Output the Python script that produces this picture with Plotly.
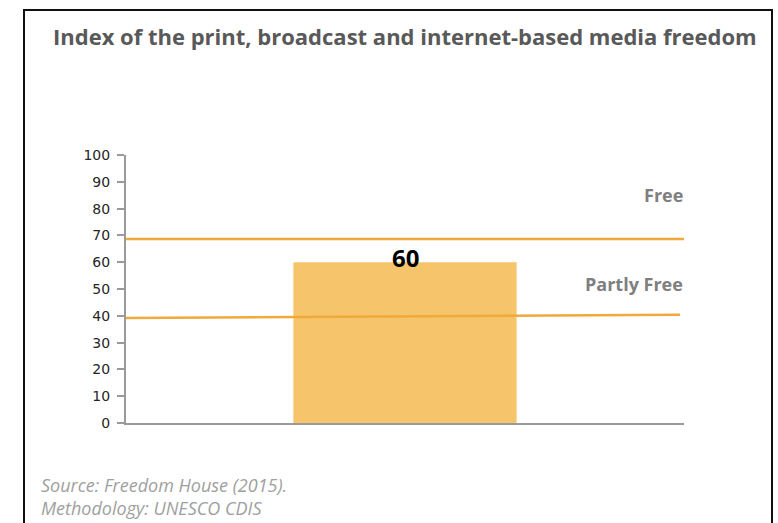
import plotly.graph_objects as go

# ---- data -------------------------------------------------------------
categories = ["Media freedom"]
index_values = [60]

# status thresholds (value at left end, value at right end of each rule)
threshold_names = ["Free", "Partly Free"]
threshold_start = [68.7, 39.2]
threshold_end = [68.7, 40.4]
threshold_label_y = [85, 52]

y_ticks = [0, 10, 20, 30, 40, 50, 60, 70, 80, 90, 100]

title_text = "Index of the print, broadcast and internet-based media freedom"
source_lines = ["Source: Freedom House (2015).", "Methodology: UNESCO CDIS"]

# ---- styling ----------------------------------------------------------
W, H = 778, 523
BAR_COLOR = "#F6C46A"
RULE_COLOR = "#F0A93A"
AXIS_COLOR = "#9A9A9A"
LABEL_GREY = "#7F7F7F"
FONT = "Open Sans"

def px_x(p):
    return p / W

def px_y(p):
    return (H - p) / H

fig = go.Figure()

# bar placed in the middle of a 0..1 horizontal scale
fig.add_trace(go.Bar(
    x=[0.5] * len(index_values),
    y=index_values,
    width=0.4,
    marker=dict(color=BAR_COLOR, line=dict(width=0)),
    name=categories[0],
    hoverinfo="y",
))

# threshold rules
rule_x_end = [1.0, 0.993]
for name, y0, y1, xe in zip(threshold_names, threshold_start, threshold_end, rule_x_end):
    fig.add_trace(go.Scatter(
        x=[0, xe], y=[y0, y1], mode="lines",
        line=dict(color=RULE_COLOR, width=2.5),
        name=name, hoverinfo="skip",
    ))

annotations = []
# threshold captions, right-aligned at the end of the scale
for name, ly in zip(threshold_names, threshold_label_y):
    annotations.append(dict(
        x=1.0, y=ly, xref="x", yref="y", text=name, showarrow=False,
        xanchor="right", yanchor="middle", xshift=1,
        font=dict(family=FONT, size=18, color=LABEL_GREY, weight="bold"),
    ))

# value label on the bar
for v in index_values:
    annotations.append(dict(
        x=0.5, y=v, xref="x", yref="y", text=str(v), showarrow=False,
        xanchor="center", yanchor="middle", yshift=5,
        font=dict(family=FONT, size=24, color="#000000", weight="bold"),
    ))

# title
annotations.append(dict(
    x=px_x(405), y=px_y(36), xref="paper", yref="paper", text=title_text,
    showarrow=False, xanchor="center", yanchor="middle",
    font=dict(family=FONT, size=22, color="#595959", weight="bold"),
))

# source notes (two lines in one block, sitting at the bottom edge)
annotations.append(dict(
    x=px_x(39), y=px_y(522), xref="paper", yref="paper",
    text="<br>".join(source_lines), showarrow=False,
    xanchor="left", yanchor="bottom", align="left",
    font=dict(family=FONT, size=18, color="#A0A0A0", style="italic"),
))

fig.update_layout(
    width=W, height=H, autosize=False,
    margin=dict(l=0, r=0, t=0, b=0, pad=0),
    paper_bgcolor="white", plot_bgcolor="white",
    showlegend=False,
    annotations=annotations,
    shapes=[dict(
        type="rect", xref="paper", yref="paper",
        x0=px_x(24), x1=px_x(772), y0=-0.1, y1=px_y(10),
        line=dict(color="#111111", width=2), fillcolor="rgba(0,0,0,0)",
        layer="above",
    )],
    xaxis=dict(
        domain=[px_x(126), px_x(684)], range=[0, 1], automargin=False,
        showgrid=False, zeroline=False, showticklabels=False, ticks="",
        showline=True, linecolor=AXIS_COLOR, linewidth=2, fixedrange=True,
    ),
    yaxis=dict(
        domain=[px_y(423), px_y(155)], range=[0, 100], automargin=False,
        tickvals=y_ticks, ticktext=[str(t) for t in y_ticks],
        showgrid=False, zeroline=False,
        showline=True, linecolor=AXIS_COLOR, linewidth=2,
        ticks="outside", ticklen=7, tickwidth=1.5, tickcolor=AXIS_COLOR,
        ticklabelstandoff=4,
        tickfont=dict(family="DejaVu Sans", size=14, color="#262626"),
        fixedrange=True,
    ),
)

fig.write_html("out.html")
